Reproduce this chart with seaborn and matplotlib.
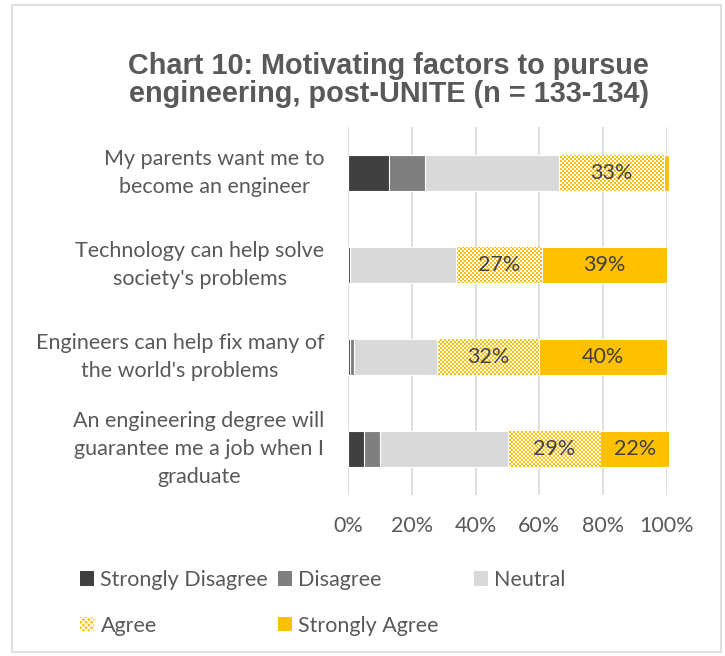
import numpy as np
import pandas as pd
import matplotlib
matplotlib.use("Agg")
import matplotlib.pyplot as plt
from matplotlib.patches import Patch, Rectangle
from matplotlib.ticker import FuncFormatter
import seaborn as sns

# Survey statements (top to bottom) and response shares in percent
items = [
    "My parents want me to\nbecome an engineer",
    "Technology can help solve\nsociety's problems",
    "Engineers can help fix many of\nthe world's problems",
    "An engineering degree will\nguarantee me a job when I\ngraduate",
]
levels = ["Strongly Disagree", "Disagree", "Neutral", "Agree", "Strongly Agree"]
strongly_disagree = [12.8, 0.7, 0.6, 5.0]
disagree = [11.2, 0.0, 1.2, 4.9]
neutral = [42.0, 33.2, 26.2, 40.2]
agree = [33.0, 26.85, 31.8, 28.9]
strongly_agree = [1.7, 39.25, 40.2, 21.7]
x_ticks = [0, 20, 40, 60, 80, 100]

colors = {
    "Strongly Disagree": "#404040",
    "Disagree": "#7f7f7f",
    "Neutral": "#d9d9d9",
    "Agree": "#ffc000",
    "Strongly Agree": "#ffc000",
}
text_color = "#595959"
label_color = "#404040"
FS = 15.5

sns.set_theme(style="white")
plt.rcParams["font.family"] = ["Lato", "DejaVu Sans"]

df = pd.DataFrame({
    "item": items,
    "Strongly Disagree": strongly_disagree,
    "Disagree": disagree,
    "Neutral": neutral,
    "Agree": agree,
    "Strongly Agree": strongly_agree,
})
# cumulative right edges of each stacked segment
cum = df[levels].cumsum(axis=1)
for lvl in levels:
    df["end_" + lvl] = cum[lvl]

W, H, DPI = 7.25, 6.56, 100
fig = plt.figure(figsize=(W, H), dpi=DPI)
ax_left, ax_right, ax_top, ax_bottom = 348, 667, 127, 495
ax = fig.add_axes([ax_left / 725, 1 - ax_bottom / 656,
                   (ax_right - ax_left) / 725, (ax_bottom - ax_top) / 656])

# Stack by overdrawing cumulative bars, widest first
zorders = {"Strongly Agree": 2, "Agree": 3, "Neutral": 5, "Disagree": 6,
           "Strongly Disagree": 7}
segment_patches = {}
for lvl in reversed(levels):
    n0 = len(ax.patches)
    sns.barplot(data=df, x="end_" + lvl, y="item", orient="h",
                color=colors[lvl], saturation=1, width=0.4,
                edgecolor="white", linewidth=0.8, zorder=zorders[lvl], ax=ax)
    segment_patches[lvl] = ax.patches[n0:]
for p in ax.patches:
    p.set_clip_on(False)

ax.set_xlim(0, 100)
ax.set_ylim(len(items) - 0.5, -0.5)

# Checkerboard fill for the "Agree" segments
px_w = ax_right - ax_left
px_h = ax_bottom - ax_top
nx, ny = px_w // 2 + 1, px_h // 2 + 1
board = np.add.outer(np.arange(ny), np.arange(nx)) % 2
gold = np.array([1.0, 0xc0 / 255, 0.0, 1.0])
white = np.array([1.0, 1.0, 1.0, 1.0])
rgba = np.where(board[..., None] == 1, gold, white)
for p in segment_patches["Agree"]:
    im = ax.imshow(rgba, extent=(0, nx * 2 * 100 / px_w, len(items) - 0.5,
                                 -0.5), aspect="auto", interpolation="nearest",
                   zorder=4)
    im.set_clip_path(p)
ax.set_xlim(0, 100)
ax.set_ylim(len(items) - 0.5, -0.5)

# Value labels on the agree-side segments
starts = cum.shift(axis=1, fill_value=0)
for lvl in ["Agree", "Strongly Agree"]:
    for i, v in enumerate(df[lvl]):
        if v >= 5:
            xc = starts.loc[i, lvl] + v / 2
            ax.text(xc, i, f"{v:.0f}%", ha="center", va="center",
                    fontsize=FS, color=label_color, zorder=10)

ax.set_xticks(x_ticks)
ax.xaxis.set_major_formatter(FuncFormatter(lambda v, _: f"{v:.0f}%"))
ax.grid(axis="x", color="#d9d9d9", linewidth=1.2, zorder=0)
ax.set_axisbelow(True)
for s in ax.spines.values():
    s.set_visible(False)
ax.set_xlabel("")
ax.set_ylabel("")
ax.tick_params(axis="x", length=0, pad=15, labelsize=FS, labelcolor=text_color)
ax.tick_params(axis="y", length=0, pad=17, labelsize=FS, labelcolor=text_color)
for lab in ax.get_yticklabels():
    lab.set_multialignment("center")
    lab.set_verticalalignment("center")
    lab.set_linespacing(1.48)

# Title
fig.text(0.536, 1 - 80 / 656,
         "Chart 10: Motivating factors to pursue\nengineering, post-UNITE (n = 133-134)",
         ha="center", va="center", fontsize=20.8, fontweight="bold",
         color=text_color, family=["Liberation Sans", "DejaVu Sans"],
         linespacing=1.0)

# Legend: two rows, Excel-style fixed columns
def handle(lvl):
    if lvl == "Agree":
        return Patch(facecolor="#ffc000", edgecolor="white", hatch="xxxxxx",
                     linewidth=0)
    return Patch(facecolor=colors[lvl], edgecolor="none")

leg_kw = dict(frameon=False, fontsize=FS, labelcolor=text_color,
              handlelength=0.65, handleheight=0.65, handletextpad=0.3,
              labelspacing=1.2, borderpad=0, borderaxespad=0)
order = ["Strongly Disagree", "Agree", "Disagree", "Strongly Agree"]
leg1 = fig.legend([handle(l) for l in order], order, ncol=2,
                  columnspacing=0.45, loc="upper left",
                  bbox_to_anchor=(80 / 725, 1 - 570 / 656), **leg_kw)
leg2 = fig.legend([handle("Neutral")], ["Neutral"], loc="upper left",
                  bbox_to_anchor=(474 / 725, 1 - 570 / 656), **leg_kw)

# Outer chart border
fig.add_artist(Rectangle((12 / 725, 1 - 652 / 656), 709 / 725, 647 / 656,
                         transform=fig.transFigure, fill=False,
                         edgecolor="#d9d9d9", linewidth=1.2))

fig.savefig("out.png", dpi=DPI, facecolor="white")
